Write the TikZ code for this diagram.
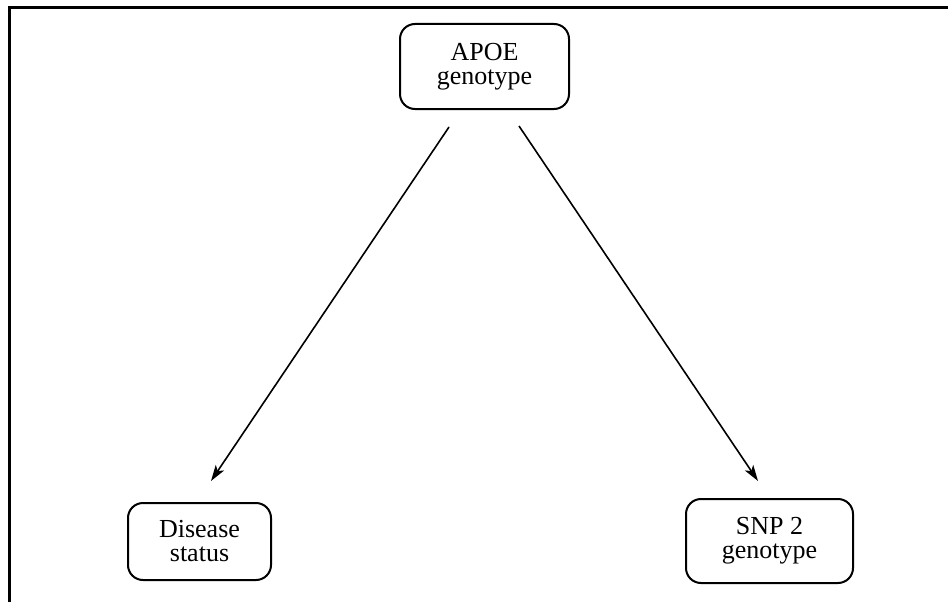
\documentclass[tikz,border=0pt]{standalone}
\usepackage{fontspec}
\setmainfont{Liberation Serif}
\usetikzlibrary{arrows.meta,calc}
\begin{document}
\begin{tikzpicture}[x=1pt,y=-1pt,
  box/.style={draw, line width=2pt, rounded corners=15pt, align=center,
    font=\fontsize{26}{24}\selectfont, inner sep=0pt},
  arr/.style={line width=1.6pt, -{Stealth[length=16pt,width=10pt,inset=4pt]}},
  frameline/.style={line width=3pt}]
\useasboundingbox (0,0) rectangle (948,602);
\fill[white] (0,0) rectangle (948,602);
\draw[frameline] (9.5,602) -- (9.5,7.5) -- (948,7.5);
\node[box, minimum width=169pt, minimum height=85pt] (apoe) at (484.5,66.5) {APOE\\genotype};
\node[box, minimum width=143pt, minimum height=77pt] (dis) at (199.5,541.5) {Disease\\status};
\node[box, minimum width=167pt, minimum height=84pt] (snp) at (769.5,541) {SNP 2\\genotype};
\draw[arr] ($(apoe.south)+(-35.5,17)$) -- ($(dis.north)+(11.5,-21)$);
\draw[arr] ($(apoe.south)+(34.5,16)$) -- ($(snp.north)+(-11.5,-17)$);
\end{tikzpicture}
\end{document}
